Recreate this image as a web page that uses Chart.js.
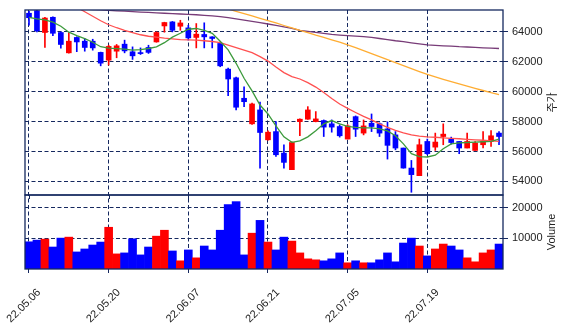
<!DOCTYPE html>
<html>
<head>
<meta charset="utf-8">
<script src="https://cdn.jsdelivr.net/npm/chart.js@4"></script>
<style>
  body { margin: 0; background: #fff; }
  canvas { display: block; }
</style>
</head>
<body>
<canvas id="myChart" width="568" height="326"></canvas>
<script>
// trading days shown on the x axis
const dates = [
  '22.05.06','22.05.09','22.05.10','22.05.11','22.05.12','22.05.13',
  '22.05.16','22.05.17','22.05.18','22.05.19','22.05.20',
  '22.05.23','22.05.24','22.05.25','22.05.26','22.05.27',
  '22.05.30','22.05.31','22.06.02','22.06.03',
  '22.06.07','22.06.08','22.06.09','22.06.10',
  '22.06.13','22.06.14','22.06.15','22.06.16','22.06.17',
  '22.06.20','22.06.21','22.06.22','22.06.23','22.06.24',
  '22.06.27','22.06.28','22.06.29','22.06.30','22.07.01',
  '22.07.04','22.07.05','22.07.06','22.07.07','22.07.08',
  '22.07.11','22.07.12','22.07.13','22.07.14','22.07.15',
  '22.07.18','22.07.19','22.07.20','22.07.21','22.07.22',
  '22.07.25','22.07.26','22.07.27','22.07.28','22.07.29',
  '22.08.01'
];
const xTickLabels = ['22.05.06','22.05.20','22.06.07','22.06.21','22.07.05','22.07.19'];

const openP = [65250,65420,63960,64980,63960,62600,63630,63380,63380,62630,
  62110,62710,63180,62670,62580,62960,63330,64400,64670,64380,
  64270,63630,63830,63670,63230,61510,60930,59560,57850,58780,
  56780,57330,55890,54780,58000,58160,58000,58070,57850,57670,
  56830,58330,57230,57890,57850,57510,57110,56230,54890,54380,
  56670,56290,57000,56830,56670,56230,56070,56450,56670,57230];
const highP = [65380,65450,64980,65010,64010,63960,63680,63560,63510,62650,
  63110,63160,63450,63000,62930,63110,64010,64650,64700,64780,
  64450,64560,64610,63680,63330,61580,60980,60330,59230,59310,
  57380,58000,56450,56650,58180,59000,58670,58110,58110,57780,
  57780,58380,58110,58510,57910,57980,57330,56230,55400,56830,
  56830,57230,57850,56960,56670,57230,56670,57330,57400,57330];
const lowP = [64450,64000,62960,63750,62910,62580,62680,62710,62780,61730,
  61780,62270,62600,62160,62490,62560,63310,63980,64000,64110,
  63450,62930,62930,62930,61670,59730,58780,59000,57810,54890,
  56750,55670,54890,54780,57050,58150,57980,57000,57290,56960,
  56830,57000,57110,57330,57000,55490,56110,54880,53270,54380,
  55780,56070,56450,56490,55850,56230,56070,56230,56330,56450];
const closeP = [64950,64080,64930,63910,63160,63380,63330,62960,62930,61910,
  63030,63070,62730,62400,62550,62630,63960,64630,64110,64600,
  63600,63850,63670,63560,61730,60850,58960,59330,59180,57270,
  57290,55780,55270,56600,58160,58780,58180,57630,57630,57050,
  57710,57490,57710,57670,57230,56410,56230,54890,54450,56450,
  55850,56630,57160,56600,56230,56670,56560,56670,57050,57000];
const volume = [8900,9450,9770,7190,10100,10420,5580,6550,7840,8810,
  13650,4940,5260,9880,4610,7190,10740,12680,5900,2680,
  6230,3650,7520,6230,12680,21070,22030,4610,11710,15900,
  8810,6230,10420,9130,5260,3320,3000,2680,3320,5260,
  2030,2680,2030,2030,3000,5260,2350,8490,10100,7520,
  4290,6550,8160,7520,6230,3650,2350,5260,6230,8160];

// moving averages
const ma5 = [64980,64880,64810,64650,64380,63980,63750,63550,63310,63010,
  62910,62880,62850,62780,62810,62890,63000,63280,63650,63910,
  64180,64230,64110,63910,63380,62800,61900,60900,60050,59110,
  58510,57710,56980,56610,56710,56980,57380,57850,58070,57850,
  57680,57610,57580,57580,57510,57380,57050,56510,55850,55650,
  55630,55750,56180,56510,56580,56600,56630,56650,56670,56830];
const ma20 = [67310,67050,66780,66510,66250,65950,65650,65350,65050,64750,
  64480,64280,64110,63960,63810,63710,63650,63580,63530,63490,
  63470,63450,63410,63360,63280,63110,62950,62780,62610,62350,
  62050,61650,61280,61010,60850,60610,60310,59950,59550,59180,
  58880,58610,58350,58110,57850,57610,57410,57250,57110,57030,
  56980,56950,56910,56880,56850,56810,56780,56750,56710,56680];
const ma60 = [null,null,null,null,null,null,null,null,null,null,
  null,null,null,null,null,null,null,null,null,null,
  66300,66150,65990,65840,65690,65530,65380,65230,65070,64910,
  64760,64600,64430,64270,64110,63950,63780,63630,63470,63310,
  63130,62950,62750,62550,62350,62150,61950,61750,61550,61350,
  61160,60990,60830,60680,60530,60380,60230,60080,59930,59810];
const ma120 = [65710,65690,65660,65630,65610,65580,65550,65530,65490,65470,
  65440,65410,65390,65360,65330,65310,65280,65250,65230,65200,
  65170,65150,65110,65070,65030,64960,64880,64790,64710,64620,
  64530,64440,64340,64240,64110,64040,63970,63900,63830,63790,
  63750,63720,63680,63630,63560,63490,63410,63350,63270,63200,
  63130,63100,63070,63050,63010,62990,62960,62930,62910,62890];

const priceTicks = [54000, 56000, 58000, 60000, 62000, 64000];
const volumeTicks = [10000, 20000];
const priceTitle = '주가';
const volumeTitle = 'Volume';

const navy = '#15285f';
const upColor = '#ff0000';
const downColor = '#0000ff';

let candleColors = closeP.map((c, i) => c >= openP[i] ? upColor : downColor);
let wicks = lowP.map((l, i) => [l, highP[i]]);
let bodies = openP.map((o, i) => [o, closeP[i]]);

Chart.defaults.font.family = "'Liberation Sans', Arial, sans-serif";
Chart.defaults.font.size = 11;
Chart.defaults.color = '#222';

// frame round each panel + the rotated axis titles
const panelFrame = {
  id: 'panelFrame',
  afterDraw(chart) {
    const ctx = chart.ctx;
    const area = chart.chartArea;
    const p = chart.scales.y;
    const v = chart.scales.yv;
    const x = chart.scales.x;
    ctx.save();
    ctx.strokeStyle = navy;
    ctx.lineWidth = 1.3;
    ctx.strokeRect(area.left, p.top, area.right - area.left, p.bottom - p.top);
    ctx.strokeRect(area.left, v.top, area.right - area.left, v.bottom - v.top);
    // small ticks under the price panel
    ctx.lineWidth = 1;
    dates.forEach((d, i) => {
      if (!xTickLabels.includes(d)) return;
      let px = Math.round(x.getPixelForValue(i)) + 0.5;
      ctx.beginPath();
      ctx.moveTo(px, p.bottom);
      ctx.lineTo(px, p.bottom + 4);
      ctx.stroke();
    });
    ctx.fillStyle = '#222';
    ctx.textAlign = 'center';
    ctx.textBaseline = 'middle';
    ctx.translate(552, (p.top + p.bottom) / 2);
    ctx.rotate(-Math.PI / 2);
    ctx.font = "11px 'Noto Sans CJK KR'";
    ctx.fillText(priceTitle, 0, 0);
    ctx.restore();
    ctx.save();
    ctx.fillStyle = '#222';
    ctx.textAlign = 'center';
    ctx.textBaseline = 'middle';
    ctx.translate(552, (v.top + v.bottom) / 2);
    ctx.rotate(-Math.PI / 2);
    ctx.font = "11px 'Liberation Sans', Arial, sans-serif";
    ctx.fillText(volumeTitle, 0, 0);
    ctx.restore();
  }
};

const ctx = document.getElementById('myChart');

new Chart(ctx, {
  type: 'bar',
  data: {
    labels: dates,
    datasets: [
      { type: 'line', label: 'MA5', data: ma5, yAxisID: 'y', borderColor: '#3c9a3c', borderWidth: 1.3, pointRadius: 0, order: 1 },
      { type: 'line', label: 'MA20', data: ma20, yAxisID: 'y', borderColor: '#ff5050', borderWidth: 1.3, pointRadius: 0, order: 2 },
      { type: 'line', label: 'MA60', data: ma60, yAxisID: 'y', borderColor: '#ffad33', borderWidth: 1.3, pointRadius: 0, order: 3 },
      { type: 'line', label: 'MA120', data: ma120, yAxisID: 'y', borderColor: '#783c78', borderWidth: 1.3, pointRadius: 0, order: 4 },
      { label: 'body', data: bodies, yAxisID: 'y', backgroundColor: candleColors, barThickness: 5, minBarLength: 1, grouped: false, order: 5 },
      { label: 'wick', data: wicks, yAxisID: 'y', backgroundColor: candleColors, barThickness: 1, grouped: false, order: 6 },
      { label: 'volume', data: volume, yAxisID: 'yv', backgroundColor: candleColors, barPercentage: 1, categoryPercentage: 1, grouped: false, order: 7 }
    ]
  },
  options: {
    responsive: false,
    devicePixelRatio: 1,
    animation: false,
    layout: { padding: { left: 25, top: 10, right: 0, bottom: 0 } },
    plugins: { legend: { display: false }, tooltip: { enabled: false } },
    scales: {
      x: {
        offset: true,
        grid: { offset: false, color: navy, lineWidth: 1, tickLength: 4 },
        border: { display: false, dash: [4, 2.5] },
        ticks: {
          autoSkip: false,
          minRotation: 45,
          maxRotation: 45,
          labelOffset: 10,
          padding: 13,
          callback: function (val, i) {
            return xTickLabels.includes(dates[i]) ? dates[i] : null;
          }
        },
        afterFit: function (scale) {
          scale.height = 57;
          scale.paddingLeft = 0;
          scale.paddingRight = 0;
        }
      },
      y: {
        position: 'right',
        stack: 'panels',
        stackWeight: 185,
        min: 53087,
        max: 65467,
        grid: { color: navy, lineWidth: 1, tickLength: 5 },
        border: { display: false, dash: [4, 2.5] },
        ticks: { padding: 4, callback: v => String(v) },
        afterBuildTicks: function (scale) {
          scale.ticks = priceTicks.map(v => ({ value: v }));
        },
        afterFit: function (scale) {
          scale.width = 65;
          scale.paddingTop = 0;
          scale.paddingBottom = 0;
        }
      },
      yv: {
        position: 'right',
        stack: 'panels',
        stackWeight: 74,
        min: 0,
        max: 24200,
        grid: { color: navy, lineWidth: 1, tickLength: 5 },
        border: { display: false, dash: [4, 2.5] },
        ticks: { padding: 4, callback: v => String(v) },
        afterBuildTicks: function (scale) {
          scale.ticks = volumeTicks.map(v => ({ value: v }));
        },
        afterFit: function (scale) {
          scale.width = 65;
          scale.paddingTop = 0;
          scale.paddingBottom = 0;
        }
      }
    }
  },
  plugins: [panelFrame]
});
</script>
</body>
</html>
